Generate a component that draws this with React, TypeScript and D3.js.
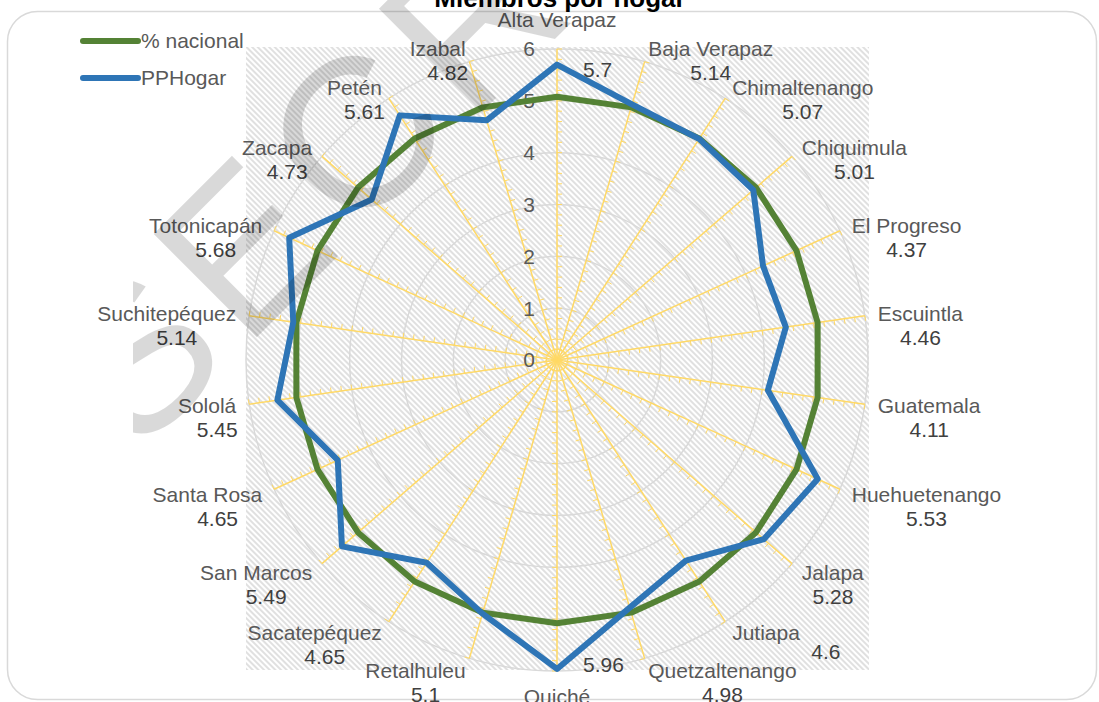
import { useEffect, useRef } from "react";
import * as d3 from "d3";

const categories = [
  "Alta Verapaz", "Baja Verapaz", "Chimaltenango", "Chiquimula", "El Progreso",
  "Escuintla", "Guatemala", "Huehuetenango", "Jalapa", "Jutiapa", "Quetzaltenango",
  "Quiché", "Retalhuleu", "Sacatepéquez", "San Marcos", "Santa Rosa", "Sololá",
  "Suchitepéquez", "Totonicapán", "Zacapa", "Petén", "Izabal",
];
const ppHogar = [
  5.7, 5.14, 5.07, 5.01, 4.37, 4.46, 4.11, 5.53, 5.28, 4.6, 4.98,
  5.96, 5.1, 4.65, 5.49, 4.65, 5.45, 5.14, 5.68, 4.73, 5.61, 4.82,
];
const nacional = [
  5.08, 5.08, 5.08, 5.08, 5.08, 5.08, 5.08, 5.08, 5.08, 5.08, 5.08,
  5.08, 5.08, 5.08, 5.08, 5.08, 5.08, 5.08, 5.08, 5.08, 5.08, 5.08,
];
const radialTicks = [0, 1, 2, 3, 4, 5, 6];
const seriesNames = ["% nacional", "PPHogar"];
const title = "Miembros por hogar";
const watermark = "SECRETO";

export default function App() {
  const svgRef = useRef<SVGSVGElement>(null);

  useEffect(() => {
    const svg = d3.select(svgRef.current);
    svg.selectAll("*").remove();
    const W = 1099, H = 702, cx = 557, cy = 360, R = 311;
    const n = categories.length;
    const font = "'Liberation Sans', Arial, sans-serif";
    const r = d3.scaleLinear().domain([0, 6]).range([0, R]);
    const angle = d3.scaleLinear().domain([0, n]).range([0, 2 * Math.PI]);
    const colors = ["#548235", "#2E75B6"];

    const defs = svg.append("defs");
    const pat = defs.append("pattern").attr("id", "hatch")
      .attr("patternUnits", "userSpaceOnUse").attr("width", 4).attr("height", 4)
      .attr("patternTransform", "rotate(-45)");
    pat.append("rect").attr("width", 4).attr("height", 4).attr("fill", "#fff");
    pat.append("line").attr("x1", 1).attr("x2", 1).attr("y1", -1).attr("y2", 5)
      .attr("stroke", "#cccccc").attr("stroke-width", 1.2);
    defs.append("clipPath").attr("id", "wmclip").append("rect")
      .attr("x", 133).attr("y", 0).attr("width", W).attr("height", H);

    svg.append("rect").attr("width", W).attr("height", H).attr("fill", "#fff");
    svg.append("rect").attr("x", 7.5).attr("y", 11.5).attr("width", 1089).attr("height", 688)
      .attr("rx", 30).attr("fill", "#fff").attr("stroke", "#d9d9d9").attr("stroke-width", 1.5);

    // title (clipped by the top edge)
    svg.append("text").attr("x", 560).attr("y", 7).attr("text-anchor", "middle")
      .attr("font-family", font).attr("font-weight", "bold").attr("font-size", 26)
      .attr("fill", "#000").text(title);

    // plot area hatch
    svg.append("rect").attr("x", cx - R).attr("y", cy - R - 2)
      .attr("width", 2 * R + 1).attr("height", 2 * R + 1).attr("fill", "url(#hatch)");

    const g = svg.append("g").attr("transform", `translate(${cx},${cy})`);

    g.selectAll("circle.grid").data(radialTicks.slice(1)).join("circle")
      .attr("class", "grid").attr("r", (d) => r(d)).attr("fill", "none")
      .attr("stroke", "#d9d9d9").attr("stroke-width", 1.5);

    const minor = d3.range(1, 31).map((i) => i * 0.2);
    categories.forEach((_, i) => {
      const a = angle(i);
      const sx = Math.sin(a), sy = -Math.cos(a);
      g.append("line").attr("x1", 0).attr("y1", 0)
        .attr("x2", r(6) * sx).attr("y2", r(6) * sy)
        .attr("stroke", "#FFD966").attr("stroke-width", 1.5);
      g.selectAll(null).data(minor).join("line")
        .attr("x1", (v) => r(v) * sx).attr("y1", (v) => r(v) * sy)
        .attr("x2", (v) => r(v) * sx + 5 * Math.cos(a))
        .attr("y2", (v) => r(v) * sy + 5 * Math.sin(a))
        .attr("stroke", "#FFD966").attr("stroke-width", 1);
    });

    g.selectAll("text.tick").data(radialTicks).join("text")
      .attr("class", "tick").attr("x", -22).attr("y", (d) => -r(d))
      .attr("dy", "0.35em").attr("text-anchor", "end")
      .attr("font-family", font).attr("font-size", 21).attr("fill", "#595959")
      .text((d) => d);

    const line = d3.lineRadial<number>()
      .angle((_, i) => angle(i)).radius((d) => r(d)).curve(d3.curveLinearClosed);
    [nacional, ppHogar].forEach((s, k) => {
      g.append("path").attr("d", line(s)).attr("fill", "none")
        .attr("stroke", colors[k]).attr("stroke-width", 6).attr("stroke-linejoin", "round");
    });

    // category labels first, so value labels can dodge them
    const names = categories.map((c, i) => {
      const a = angle(i);
      const s = Math.sin(a), co = Math.cos(a);
      const px = (R + 13) * s, py = -(R + 13) * co;
      const mid = Math.abs(s) < 0.05;
      const anchor = mid ? "middle" : s > 0 ? "start" : "end";
      const ny = mid ? py + (co > 0 ? -16 : 13) : py;
      const t = g.append("text").attr("x", px).attr("y", ny).attr("dy", "0.35em")
        .attr("text-anchor", anchor).attr("font-family", font).attr("font-size", 21)
        .attr("fill", "#595959").text(c);
      return { s, co, mid, ny, bb: (t.node() as SVGTextElement).getBBox() };
    });

    names.forEach(({ s, co, mid, ny, bb }, i) => {
      const vt = g.append("text").attr("dy", "0.35em").attr("font-family", font)
        .attr("font-size", 21).attr("fill", "#404040").text(ppHogar[i]);
      if (mid) {
        const vy = -r(ppHogar[i]) * co;
        vt.attr("x", 26).attr("y", vy + (co > 0 ? 5 : -4)).attr("text-anchor", "start");
        return;
      }
      vt.attr("x", bb.x + bb.width / 2 + (s < 0 ? 10 : 0)).attr("y", ny + 24)
        .attr("text-anchor", "middle");
      const vb = (vt.node() as SVGTextElement).getBBox();
      const hit = names.some((o, j) => j !== i &&
        vb.x < o.bb.x + o.bb.width && vb.x + vb.width > o.bb.x &&
        vb.y < o.bb.y + o.bb.height && vb.y + vb.height > o.bb.y);
      if (hit) {
        vt.attr("text-anchor", "start").attr("x", bb.x + bb.width + 11).attr("y", ny + 19);
      }
    });

    // legend
    const lg = svg.append("g");
    seriesNames.forEach((nm, k) => {
      const y = 41 + k * 37;
      lg.append("line").attr("x1", 83).attr("x2", 138).attr("y1", y).attr("y2", y)
        .attr("stroke", colors[k]).attr("stroke-width", 6).attr("stroke-linecap", "round");
      lg.append("text").attr("x", 141).attr("y", y).attr("dy", "0.35em")
        .attr("font-family", font).attr("font-size", 21).attr("fill", "#595959").text(nm);
    });

    // watermark
    svg.append("g").attr("clip-path", "url(#wmclip)")
      .append("text").attr("transform", "translate(136,458) rotate(-45)")
      .attr("font-family", font).attr("font-size", 212).attr("letter-spacing", 12)
      .attr("fill", "#000").attr("fill-opacity", 0.15).text(watermark);
  }, []);

  return (
    <svg ref={svgRef} width={1099} height={702}
      style={{ position: "absolute", left: 0, top: 0, display: "block" }} />
  );
}
